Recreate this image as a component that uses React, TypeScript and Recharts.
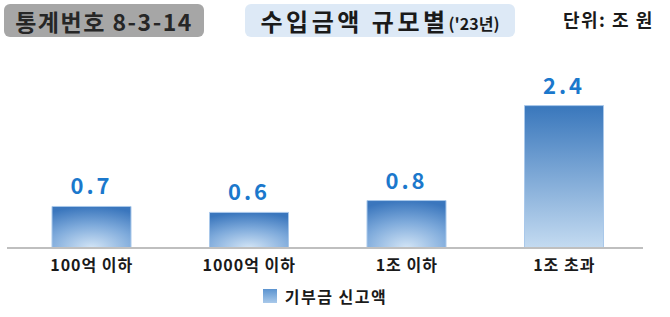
import { Bar, BarChart, Cell, LabelList, Legend, XAxis, YAxis } from "recharts";

const categories = ["100억 이하", "1000억 이하", "1조 이하", "1조 초과"];
const amounts = [0.7, 0.6, 0.8, 2.4];
const seriesName = "기부금 신고액";

const rows = categories.map((name, i) => ({ name, value: amounts[i] }));

const FONT = "'Noto Sans CJK KR', 'Noto Sans', sans-serif";

function LegendBox() {
  return (
    <div style={{ height: 30, paddingTop: 6, boxSizing: "border-box", display: "flex", justifyContent: "center", alignItems: "center", fontFamily: FONT }}>
      <span style={{ width: 14, height: 14, background: "linear-gradient(180deg,#5b93cf,#a9c9ea)", marginRight: 8, marginLeft: 0, display: "inline-block" }} />
      <span style={{ fontSize: 16, fontWeight: 700, color: "#1a1a1a", letterSpacing: 1.5 }}>{seriesName}</span>
    </div>
  );
}

export default function App() {
  return (
    <div style={{ position: "absolute", left: 0, top: 0, width: 670, height: 317, background: "#fff", fontFamily: FONT }}>
      <div style={{ position: "absolute", left: 4, top: 4, width: 200, height: 33, borderRadius: 6, background: "#a6a6a6", display: "flex", alignItems: "center", justifyContent: "center" }}>
        <span style={{ fontSize: 23, fontWeight: 700, color: "#262626", letterSpacing: 1.5 }}>통계번호 8-3-14</span>
      </div>
      <div style={{ position: "absolute", left: 245, top: 4, width: 270, height: 33, borderRadius: 6, background: "#dde9f6", display: "flex", alignItems: "center", justifyContent: "center" }}>
        <span style={{ fontSize: 24, fontWeight: 700, color: "#1a1a1a", letterSpacing: 3.5 }}>수입금액 규모별</span>
        <span style={{ fontSize: 16, fontWeight: 700, color: "#1a1a1a", marginTop: 5 }}>('23년)</span>
      </div>
      <div style={{ position: "absolute", left: 563, top: 6, fontSize: 18, fontWeight: 700, color: "#1a1a1a", letterSpacing: 1.5 }}>단위: 조 원</div>
      <BarChart width={670} height={317} data={rows} margin={{ top: 70, right: 27, left: 7, bottom: 9 }} style={{ position: "absolute", left: 0, top: 0 }}>
        <defs>
          <radialGradient id="barRad" cx="0.5" cy="1" r="1" fx="0.5" fy="1">
            <stop offset="0%" stopColor="#d3e5f6" />
            <stop offset="55%" stopColor="#7eaadb" />
            <stop offset="100%" stopColor="#3a76bd" />
          </radialGradient>
          <linearGradient id="barLin" x1="0" y1="0" x2="0" y2="1">
            <stop offset="0%" stopColor="#3977bc" />
            <stop offset="100%" stopColor="#c4dbf1" />
          </linearGradient>
        </defs>
        <XAxis
          dataKey="name"
          height={30}
          padding={{ left: 6, right: 0 }}
          tickLine={false}
          tickMargin={6}
          axisLine={{ stroke: "#bfbfbf", strokeWidth: 2 }}
          tick={{ fontSize: 16, fontWeight: 700, fill: "#1a1a1a", fontFamily: FONT, letterSpacing: 1 }}
        />
        <YAxis hide domain={[0, 3]} />
        <Legend verticalAlign="bottom" content={() => <LegendBox />} />
        <Bar dataKey="value" name={seriesName} barSize={79} stroke="#a9c8ea" strokeWidth={1} isAnimationActive={false}>
          {rows.map((r, i) => (
            <Cell key={i} fill={r.value > 2 ? "url(#barLin)" : "url(#barRad)"} />
          ))}
          <LabelList dataKey="value" position="top" offset={12} style={{ fontSize: 22, fontWeight: 700, fill: "#1b78cc", fontFamily: FONT, letterSpacing: 3 }} formatter={(v: number) => v.toFixed(1)} />
        </Bar>
      </BarChart>
    </div>
  );
}
